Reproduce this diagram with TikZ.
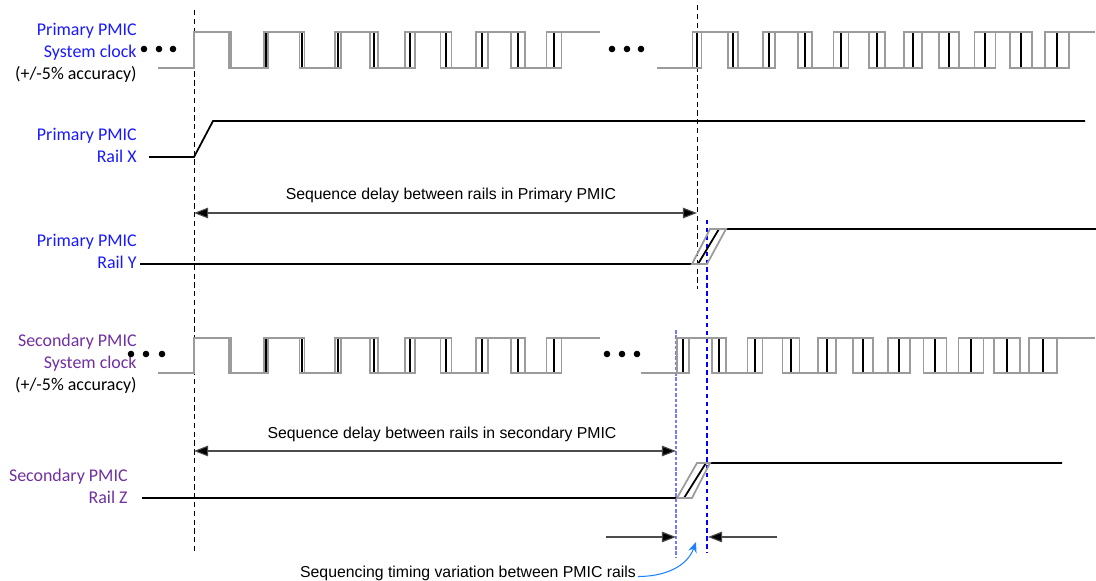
\documentclass[tikz,border=0pt]{standalone}
\usepackage{fontspec}
\setmainfont{Carlito}
\newfontfamily\arialfont{Liberation Sans}
\usetikzlibrary{arrows.meta}
\definecolor{pmicblue}{RGB}{25,25,255}
\definecolor{pmicpurple}{RGB}{112,48,160}
\definecolor{edgegray}{RGB}{155,155,155}
\definecolor{markblue}{RGB}{0,0,255}
\definecolor{lightmark}{RGB}{120,120,255}
\definecolor{curveblue}{RGB}{30,130,255}

% clock run: style, start x, first edge x, end x, low y, high y, edge offset
\newcommand{\clockwave}[7]{%
  \draw[#1] (#2,#5) \foreach \k [evaluate=\k as \xe using {#3+36*\k+(#7)},
      evaluate=\k as \ya using {mod(\k,2)==0 ? #5 : #6},
      evaluate=\k as \yb using {mod(\k,2)==0 ? #6 : #5}] in {0,...,10}
    { -- (\xe,\ya) -- (\xe,\yb) } -- (#4,#6);
}

\begin{document}
\begin{tikzpicture}[x=0.02cm, y=-0.02cm,
    lbl/.style = {font=\fontsize{10.2}{12.6}\selectfont, align=right, inner sep=0pt},
    note/.style = {font=\arialfont\fontsize{9}{11}\selectfont, inner sep=1pt},
    clk/.style = {black, line width=1.1pt},
    clkgray/.style = {edgegray, line width=1pt},
    rail/.style = {black, line width=1pt},
    ramp/.style = {edgegray, line width=1pt},
    timeline/.style = {black, line width=0.5pt, dash pattern=on 3pt off 2pt},
    blueline/.style = {markblue, line width=0.6pt, dash pattern=on 2.5pt off 2pt},
    lightline/.style = {lightmark, line width=1.2pt, dash pattern=on 2pt off 1pt},
    delay/.style = {black!70, line width=0.6pt, {Triangle[length=8pt,width=6pt,fill=black]}-{Triangle[length=8pt,width=6pt,fill=black]}},
    gap/.style = {black!70, line width=0.6pt, -{Triangle[length=8pt,width=6pt,fill=black]}},
    curve/.style = {curveblue, line width=0.6pt, -{Stealth[length=6pt,width=5pt]}},
    dot/.style = {fill=black}]
  \useasboundingbox (0,0) rectangle (1096,581);

  % labels
  \node[lbl, anchor=east] (pclk) at (137,53)
    {\textcolor{pmicblue}{Primary PMIC}\\\textcolor{pmicblue}{System clock}\\(+/-5\% accuracy)};
  \node[lbl, anchor=east, text=pmicblue] (pxlbl) at (137,145) {Primary PMIC\\Rail X};
  \node[lbl, anchor=east, text=pmicblue] (pylbl) at (137,251) {Primary PMIC\\Rail Y};
  \node[lbl, anchor=east] (sclk) at (137,364)
    {\textcolor{pmicpurple}{Secondary PMIC}\\\textcolor{pmicpurple}{System clock}\\(+/-5\% accuracy)};
  \node[lbl, anchor=east, text=pmicpurple] (szlbl) at (128,486) {Secondary PMIC\\Rail Z};

  % time markers
  \coordinate (t0top) at (194,10);   \coordinate (t0bot) at (194,551);
  \coordinate (t1top) at (697,5);    \coordinate (t1bot) at (697,289);
  \coordinate (t2top) at (707,220);  \coordinate (t2bot) at (707,553);
  \coordinate (t3top) at (676,330);  \coordinate (t3bot) at (676,558);
  \draw[timeline] (t0top) -- (t0bot);
  \draw[timeline] (t1top) -- (t1bot);
  \draw[blueline] (t2top) -- (t2bot);
  \draw[lightline] (t3top) -- (t3bot);

  % primary clock
  \clockwave{clk}{158}{194}{600}{68}{32}{0}
  \clockwave{clkgray}{158}{194}{600}{68}{32}{-(0.5+0.7*\k)}
  \clockwave{clkgray}{158}{194}{600}{68}{32}{0.5+0.7*\k}
  \clockwave{clk}{657}{697}{1095}{68}{32}{0}
  \clockwave{clkgray}{657}{697}{1095}{68}{32}{-(4.5+0.75*\k)}
  \clockwave{clkgray}{657}{697}{1095}{68}{32}{4.5+0.75*\k}
  \foreach \x in {144,159,173,612,627,641}
    \fill[dot] (\x,49) circle (3.3);

  % secondary clock
  \clockwave{clk}{158}{194}{600}{373}{338}{0}
  \clockwave{clkgray}{158}{194}{600}{373}{338}{-(0.5+0.7*\k)}
  \clockwave{clkgray}{158}{194}{600}{373}{338}{0.5+0.7*\k}
  \clockwave{clk}{641}{683}{1095}{373}{338}{0}
  \clockwave{clkgray}{641}{683}{1095}{373}{338}{-(6+0.8*\k)}
  \clockwave{clkgray}{641}{683}{1095}{373}{338}{6+0.8*\k}
  \foreach \x in {131,146,162,607,622,637}
    \fill[dot] (\x,354) circle (3.3);

  % rails
  \draw[rail] (149,157) -- (194,157) -- (213,121) -- (1085,121);
  \draw[rail] (140,264) -- (698,264) -- (719,229) -- (1096,229);
  \draw[ramp] (692,264) -- (710,229) -- (726,229) -- (707,264) -- cycle;
  \draw[rail] (142,498) -- (684,498) -- (706,463) -- (1062,463);
  \draw[ramp] (677,498) -- (697,463) -- (710,463) -- (692,498) -- cycle;

  % delays
  \coordinate (pda) at (194,213); \coordinate (pdb) at (697,213);
  \coordinate (sda) at (194,451); \coordinate (sdb) at (676,451);
  \draw[delay] (pda) -- (pdb);
  \draw[delay] (sda) -- (sdb);
  \node[note] (pdelay) at (451,195) {Sequence delay between rails in Primary PMIC};
  \node[note] (sdelay) at (442,434) {Sequence delay between rails in secondary PMIC};

  % variation window
  \coordinate (gla) at (606,537); \coordinate (glb) at (676,537);
  \coordinate (gra) at (777,537); \coordinate (grb) at (708,537);
  \draw[gap] (gla) -- (glb);
  \draw[gap] (gra) -- (grb);
  \node[note] (varnote) at (468,573) {Sequencing timing variation between PMIC rails};
  \coordinate (vtip) at (696,542);
  \draw[curve] ([yshift=-2pt]varnote.east) to[out=0, in=250] (vtip);
\end{tikzpicture}
\end{document}
